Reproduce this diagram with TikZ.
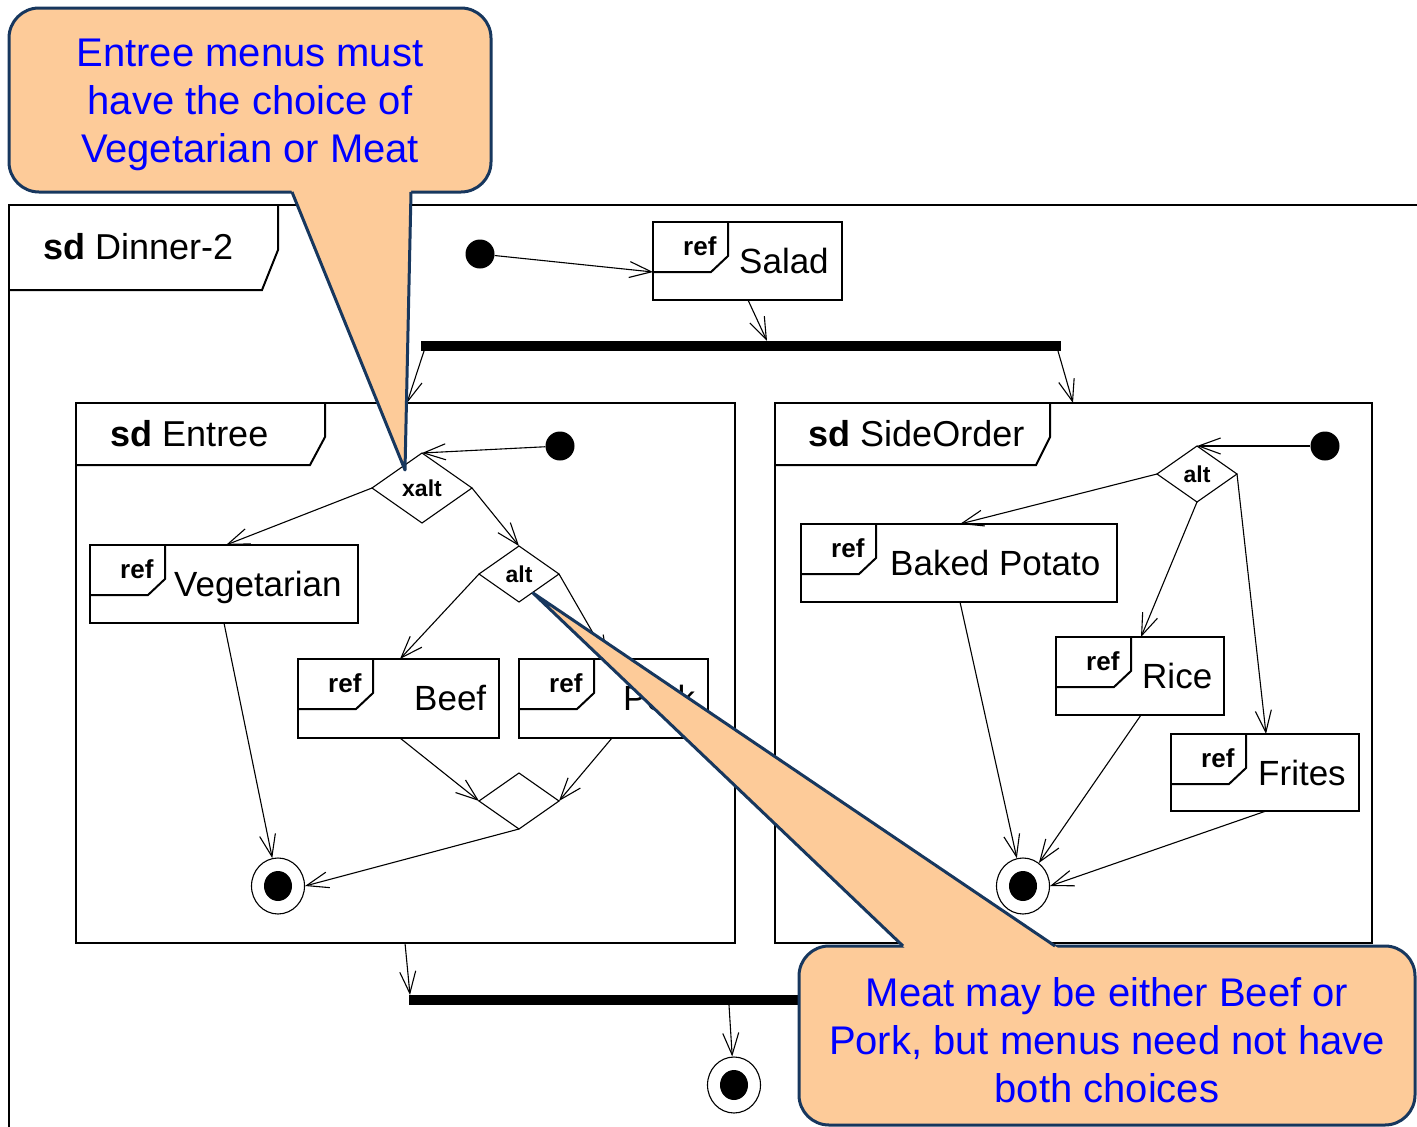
\documentclass[tikz,border=0pt]{standalone}
\usepackage{fontspec}
\setmainfont{Liberation Sans}
\usetikzlibrary{arrows.meta,shapes.geometric}

\definecolor{notefill}{RGB}{253,203,153}
\definecolor{noteline}{RGB}{23,55,94}
\definecolor{notetext}{RGB}{0,0,255}

\tikzset{
  flow/.style={line width=1.1pt,-{Straight Barb[length=22pt,width=16pt]}},
  framebox/.style={draw,line width=2pt,anchor=north west,inner sep=0pt,outer sep=0pt},
  tabline/.style={line width=2pt,line join=miter},
  title/.style={anchor=base west,inner sep=0pt,font=\fontsize{36}{43}\selectfont},
  refframe/.style={draw,line width=2pt,anchor=north west,inner sep=0pt,outer sep=0pt},
  reftag/.style={anchor=base west,inner sep=0pt,font=\bfseries\fontsize{26}{31}\selectfont},
  reftext/.style={anchor=base west,inner sep=0pt,font=\fontsize{35}{42}\selectfont},
  choice/.style={diamond,draw,line width=1.1pt,inner sep=0pt,outer sep=0pt,
    font=\bfseries\fontsize{23}{27}\selectfont},
  bar/.style={fill=black,anchor=north west,inner sep=0pt,outer sep=0pt,minimum height=10pt},
  initnode/.style={circle,fill=black,minimum size=29pt,inner sep=0pt},
  finalnode/.style={ellipse,draw,line width=1.1pt,minimum width=53pt,minimum height=56pt,
    inner sep=0pt,fill=white,
    path picture={\fill[black] (path picture bounding box.center) ellipse (14pt and 15pt);}},
  note/.style={rounded corners=30pt,fill=notefill,draw=noteline,line width=3pt,
    anchor=north west,inner sep=0pt,outer sep=0pt},
  notetxt/.style={anchor=base,inner sep=0pt,text=notetext,font=\fontsize{40}{48}\selectfont},
  pointer/.style={draw=noteline,line width=3pt,line join=round},
}

% interaction use: box with a "ref" tab and its name
% #1 name, #2 x, #3 y, #4 width, #5 height, #6 x of the name, #7 name text
\newcommand\refbox[7]{%
  \node[refframe,minimum width=#4pt,minimum height=#5pt] (#1) at (#2,#3) {};
  \draw[tabline] ([xshift=75pt]#1.north west) -- ++(0,34) -- ++(-17,16) -- ++(-58,0);
  \node[reftag] (#1-tag) at ([shift={(30,33)}]#1.north west) {ref};
  \node[reftext] (#1-name) at ([shift={(#6,51)}]#1.north west) {#7};
}

\begin{document}
\begin{tikzpicture}[x=1pt,y=-1pt]
\useasboundingbox (0,0) rectangle (1417,1127);
\clip (0,0) rectangle (1417,1127);

% ---------- outer frame: sd Dinner-2 ----------
\node[framebox,minimum width=1440pt,minimum height=960pt] (dinner) at (9,205) {};
\draw[tabline] ([xshift=269pt]dinner.north west) -- ++(0,45) -- ++(-16,40) -- ++(-253,0);
\node[title] (dinner-title) at ([shift={(34,54)}]dinner.north west) {\textbf{sd} Dinner-2};

\node[initnode] (i0) at (480,254) {};
\refbox{salad}{653}{222}{189}{78}{86}{Salad}
\node[bar,minimum width=640pt] (fork) at (421,341) {};

% ---------- sd Entree ----------
\node[framebox,minimum width=659pt,minimum height=540pt] (entree) at (76,403) {};
\draw[tabline] ([xshift=249pt]entree.north west) -- ++(0,34) -- ++(-15,28) -- ++(-234,0);
\node[title] (entree-title) at ([shift={(34,43)}]entree.north west) {\textbf{sd} Entree};

\node[initnode] (i1) at (560,446) {};
\node[choice,minimum width=100pt,minimum height=70pt] (xalt) at (422,488) {xalt};
\refbox{veg}{90}{545}{268}{78}{84}{Vegetarian}
\node[choice,minimum width=80pt,minimum height=56pt] (alt1) at (519,574) {alt};
\refbox{beef}{298}{659}{201}{79}{116}{Beef}
\refbox{pork}{519}{659}{189}{79}{104}{Pork}
\node[choice,minimum width=80pt,minimum height=56pt] (merge) at (519,801) {};
\node[finalnode] (f1) at (278,886) {};

% ---------- sd SideOrder ----------
\node[framebox,minimum width=597pt,minimum height=540pt] (side) at (775,403) {};
\draw[tabline] ([xshift=275pt]side.north west) -- ++(0,34) -- ++(-14,28) -- ++(-261,0);
\node[title] (side-title) at ([shift={(33,43)}]side.north west) {\textbf{sd} SideOrder};

\node[initnode] (i2) at (1325,446) {};
\node[choice,minimum width=80pt,minimum height=56pt] (alt2) at (1197,474) {alt};
\refbox{potato}{801}{524}{316}{78}{89}{Baked Potato}
\refbox{rice}{1056}{637}{168}{78}{86}{Rice}
\refbox{frites}{1171}{734}{188}{77}{87}{Frites}
\node[finalnode] (f2) at (1023,886) {};

% ---------- join and end ----------
\node[bar,minimum width=600pt] (join) at (409,995) {};
\node[finalnode] (f3) at (734,1085) {};

% ---------- control flow ----------
\draw[flow] (i0) -- ([yshift=-50pt]salad.north west);
\draw[flow] ([xshift=95pt]salad.south west) -- ([xshift=346pt]fork.north west);
\draw[flow] ([xshift=3pt]fork.south west) -- ([xshift=331pt]entree.north west);
\draw[flow] ([xshift=-3pt]fork.south east) -- ([xshift=298pt]side.north west);

\draw[flow] (i1) -- (xalt.north);
\draw[flow] (xalt.west) -- ([xshift=136pt]veg.north west);
\draw[flow] (xalt.east) -- (alt1.north);
\draw[flow] (alt1.west) -- ([xshift=102pt]beef.north west);
\draw[flow] (alt1.east) -- ([xshift=89pt]pork.north west);
\draw[flow] ([xshift=102pt]beef.south west) -- (merge.west);
\draw[flow] ([xshift=93pt]pork.south west) -- (merge.east);
\draw[flow] (merge.south) -- (f1.east);
\draw[flow] ([xshift=134pt]veg.south west) -- (f1);

\draw[flow] (i2) -- (alt2.north);
\draw[flow] (alt2.west) -- ([xshift=159pt]potato.north west);
\draw[flow] (alt2.south) -- ([xshift=85pt]rice.north west);
\draw[flow] (alt2.east) -- ([xshift=95pt]frites.north west);
\draw[flow] ([xshift=159pt]potato.south west) -- (f2);
\draw[flow] ([xshift=85pt]rice.south west) -- (f2);
\draw[flow] ([xshift=95pt]frites.south west) -- (f2.east);

\draw[flow] ([xshift=329pt]entree.south west) -- ([xshift=1pt]join.north west);
\draw[flow] ([xshift=320pt]join.south west) -- (f3);

% ---------- notes ----------
\node[note,minimum width=482pt,minimum height=184pt] (note1) at (9,8) {};
\coordinate (tip1) at (405,470);
\fill[notefill] ([shift={(281,-6)}]note1.south west) -- ([shift={(283,0)}]note1.south west)
  -- (tip1) -- ([shift={(402,0)}]note1.south west) -- ([shift={(402,-6)}]note1.south west) -- cycle;
\draw[pointer] ([shift={(283,0)}]note1.south west) -- (tip1) -- ([shift={(402,0)}]note1.south west);
\node[notetxt] (note1-a) at ([shift={(241,58)}]note1.north west) {Entree menus must};
\node[notetxt] (note1-b) at ([shift={(241,106)}]note1.north west) {have the choice of};
\node[notetxt] (note1-c) at ([shift={(241,154)}]note1.north west) {Vegetarian or Meat};

\node[note,minimum width=616pt,minimum height=179pt] (note2) at (799,946) {};
\coordinate (tip2) at (533,593);
\fill[notefill] ([shift={(110,6)}]note2.north west) -- ([shift={(104,0)}]note2.north west)
  -- (tip2) -- ([shift={(256,0)}]note2.north west) -- ([shift={(265,6)}]note2.north west) -- cycle;
\draw[pointer] ([shift={(104,0)}]note2.north west) -- (tip2) -- ([shift={(256,0)}]note2.north west);
\node[notetxt] (note2-a) at ([shift={(308,60)}]note2.north west) {Meat may be either Beef or};
\node[notetxt] (note2-b) at ([shift={(308,108)}]note2.north west) {Pork, but menus need not have};
\node[notetxt] (note2-c) at ([shift={(308,156)}]note2.north west) {both choices};
\end{tikzpicture}
\end{document}
